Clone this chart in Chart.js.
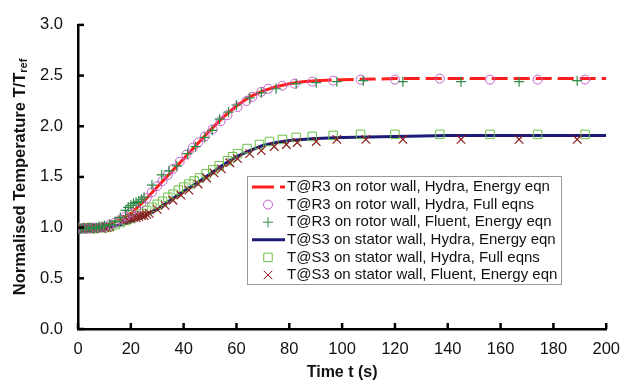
<!DOCTYPE html>
<html>
<head>
<meta charset="utf-8">
<script src="https://cdn.jsdelivr.net/npm/chart.js@4/dist/chart.umd.min.js"></script>
<style>
  html, body { margin: 0; padding: 0; background: #fff; }
  #wrap { width: 631px; height: 385px; }
</style>
</head>
<body>
<div id="wrap"><canvas id="tempChart" width="631" height="385"></canvas></div>
<script>
// Hydra energy eqn curves (lines)
const lineTime = [0, 5, 10, 15, 20, 25, 30, 35, 40, 45, 50, 55, 60, 65, 70, 75, 80, 85, 90, 100, 120, 140, 160, 180, 200];
const rotorLine = [1.00, 1.00, 1.02, 1.07, 1.14, 1.26, 1.40, 1.54, 1.68, 1.82, 1.96, 2.09, 2.20, 2.29, 2.35, 2.39, 2.42, 2.44, 2.45, 2.46, 2.47, 2.47, 2.47, 2.47, 2.47];
const statorLine = [1.00, 1.00, 1.00, 1.02, 1.06, 1.11, 1.18, 1.27, 1.36, 1.44, 1.53, 1.62, 1.70, 1.76, 1.81, 1.84, 1.86, 1.87, 1.88, 1.89, 1.90, 1.91, 1.91, 1.91, 1.91];

// T@R3 rotor, Hydra full eqns (circles)
const rotorFullT = [0, 2, 4, 6, 8, 10, 12, 14, 16, 18, 20, 22, 24, 26, 28, 30, 32, 34, 36, 38.5, 41, 43.5, 45.5, 48, 51, 54, 56.6, 60.4, 63.8, 66, 69.4, 72, 77.4, 82, 88.7, 96.6, 107, 120, 137, 156, 174, 192];
const rotorFullV = [1.00, 0.99, 0.99, 1.00, 1.00, 1.01, 1.03, 1.05, 1.08, 1.11, 1.15, 1.19, 1.24, 1.29, 1.35, 1.41, 1.46, 1.52, 1.58, 1.65, 1.72, 1.79, 1.84, 1.90, 1.97, 2.05, 2.11, 2.19, 2.25, 2.29, 2.34, 2.37, 2.40, 2.42, 2.44, 2.45, 2.46, 2.46, 2.47, 2.46, 2.46, 2.46];

// T@R3 rotor, Fluent energy eqn (plus)
const rotorFluentT = [0, 1, 2, 3, 4, 5, 6, 7, 8, 9, 10, 12, 14, 16, 18, 19, 20, 21, 22, 23, 24, 25, 28, 31.7, 34.5, 37.4, 41.5, 44.5, 48, 50.8, 53.6, 57, 60, 65, 69.4, 75, 82.6, 90.2, 98, 108, 123, 145, 167, 189];
const rotorFluentV = [1.00, 0.99, 1.00, 0.99, 1.00, 1.00, 0.99, 1.00, 1.01, 1.01, 1.02, 1.03, 1.06, 1.10, 1.17, 1.20, 1.22, 1.24, 1.25, 1.26, 1.28, 1.30, 1.42, 1.52, 1.56, 1.61, 1.73, 1.80, 1.89, 1.96, 2.07, 2.14, 2.21, 2.28, 2.33, 2.37, 2.42, 2.43, 2.44, 2.45, 2.44, 2.44, 2.44, 2.45];

// T@S3 stator, Hydra full eqns (squares)
const statorFullT = [0, 2, 4, 6, 8, 10, 12, 14, 16, 18, 20, 22, 24, 26, 28, 30, 32, 34, 36, 38, 40, 42, 44, 46, 48.5, 51, 53.5, 56.6, 58.5, 60.4, 64, 68.7, 72.5, 77.4, 82.6, 88.7, 96.6, 107, 120, 137, 156, 174, 192];
const statorFullV = [0.99, 0.99, 1.00, 0.99, 1.00, 1.00, 1.01, 1.03, 1.05, 1.07, 1.09, 1.12, 1.14, 1.17, 1.20, 1.23, 1.26, 1.30, 1.33, 1.37, 1.40, 1.43, 1.46, 1.49, 1.53, 1.57, 1.61, 1.66, 1.70, 1.73, 1.78, 1.82, 1.85, 1.87, 1.89, 1.90, 1.91, 1.92, 1.92, 1.92, 1.92, 1.92, 1.92];

// T@S3 stator, Fluent energy eqn (x)
const statorFluentT = [0, 1, 2, 3, 4, 5, 6, 7, 8, 9, 10, 11, 12, 17, 18.5, 20, 21, 22, 23, 24, 25, 26, 27, 30, 33, 36, 39, 42, 45.5, 48.7, 51.5, 54.3, 57.5, 60.4, 65, 69.4, 74.3, 78.9, 83, 90.2, 98, 109, 123, 145, 167, 189];
const statorFluentV = [0.99, 1.00, 0.99, 1.00, 0.99, 1.00, 0.99, 1.00, 1.00, 0.99, 1.00, 1.00, 1.01, 1.07, 1.08, 1.09, 1.10, 1.10, 1.11, 1.12, 1.12, 1.13, 1.14, 1.18, 1.22, 1.27, 1.32, 1.37, 1.43, 1.49, 1.54, 1.58, 1.64, 1.68, 1.73, 1.76, 1.80, 1.82, 1.84, 1.85, 1.87, 1.87, 1.87, 1.87, 1.87, 1.87];

const legendLabels = [
  'T@R3 on rotor wall, Hydra, Energy eqn',
  'T@R3 on rotor wall, Hydra, Full eqns',
  'T@R3 on rotor wall, Fluent, Energy eqn',
  'T@S3 on stator wall, Hydra, Energy eqn',
  'T@S3 on stator wall, Hydra, Full eqns',
  'T@S3 on stator wall, Fluent, Energy eqn'
];

const xTicks = [0, 20, 40, 60, 80, 100, 120, 140, 160, 180, 200];
const yTicks = [0, 0.5, 1.0, 1.5, 2.0, 2.5, 3.0];

function pts(xs, ys) {
  return xs.map((x, i) => ({ x: x, y: ys[i] }));
}

const FONT = "'Liberation Sans', Arial, sans-serif";

// inward tick marks, y title with subscript, legend box
const extras = {
  id: 'extras',
  afterDraw(chart) {
    const ctx = chart.ctx;
    const xs = chart.scales.x, ys = chart.scales.y;
    const area = chart.chartArea;
    ctx.save();
    ctx.strokeStyle = '#000';
    ctx.lineWidth = 2.5;
    xTicks.forEach(v => {
      const px = xs.getPixelForValue(v);
      ctx.beginPath();
      ctx.moveTo(px, area.bottom);
      ctx.lineTo(px, area.bottom - 6);
      ctx.stroke();
    });
    yTicks.forEach(v => {
      const py = ys.getPixelForValue(v);
      ctx.beginPath();
      ctx.moveTo(area.left, py);
      ctx.lineTo(area.left + 6, py);
      ctx.stroke();
    });

    // y axis title
    ctx.translate(20, (area.top + area.bottom) / 2);
    ctx.rotate(-Math.PI / 2);
    ctx.fillStyle = '#111';
    ctx.textBaseline = 'middle';
    const main = 'Normalised Temperature T/T';
    ctx.font = 'bold 16.5px ' + FONT;
    const w1 = ctx.measureText(main).width;
    ctx.font = 'bold 11px ' + FONT;
    const w2 = ctx.measureText('ref').width;
    const start = -(w1 + w2) / 2;
    ctx.font = 'bold 16.5px ' + FONT;
    ctx.textAlign = 'left';
    ctx.fillText(main, start, 0);
    ctx.font = 'bold 11px ' + FONT;
    ctx.fillText('ref', start + w1, 4);
    ctx.restore();

    // legend
    ctx.save();
    const bx = 247, by = 176, bw = 314, bh = 108, rowH = 17.6;
    ctx.fillStyle = '#fff';
    ctx.fillRect(bx, by, bw, bh);
    ctx.strokeStyle = '#9a9a9a';
    ctx.lineWidth = 1;
    ctx.strokeRect(bx + 0.5, by + 0.5, bw, bh);
    ctx.font = '15px ' + FONT;
    ctx.textBaseline = 'middle';
    ctx.textAlign = 'left';
    chart.data.datasets.forEach((ds, i) => {
      const cy = by + 11 + i * rowH;
      if (ds.showLine) {
        ctx.strokeStyle = ds.borderColor;
        ctx.lineWidth = 3;
        ctx.setLineDash(ds.legendDash || []);
        ctx.beginPath();
        ctx.moveTo(bx + 5, cy);
        ctx.lineTo(bx + 38, cy);
        ctx.stroke();
        ctx.setLineDash([]);
      } else {
        ctx.strokeStyle = ds.borderColor;
        ctx.fillStyle = 'rgba(0,0,0,0)';
        ctx.lineWidth = 1;
        Chart.helpers.drawPoint(ctx, {
          pointStyle: ds.pointStyle, radius: ds.pointRadius, rotation: 0, borderWidth: 1
        }, bx + 21, cy);
      }
      ctx.fillStyle = '#111';
      ctx.fillText(legendLabels[i], bx + 40, cy);
    });
    ctx.restore();
  }
};

const ctx = document.getElementById('tempChart').getContext('2d');
const tempChart = new Chart(ctx, {
  type: 'scatter',
  data: {
    datasets: [
      {
        label: legendLabels[0],
        data: pts(lineTime, rotorLine),
        showLine: true,
        borderColor: '#ff1f1f',
        borderWidth: 3,
        pointRadius: 0,
        legendDash: [22, 6, 6, 0],
        segment: {
          borderDash: c => (c.p1.parsed.x - c.p0.parsed.x) > 8 ? [16, 6] : undefined
        },
        order: 6
      },
      {
        label: legendLabels[1],
        data: pts(rotorFullT, rotorFullV),
        borderColor: '#c15ec8',
        backgroundColor: 'rgba(0,0,0,0)',
        pointStyle: 'circle',
        pointRadius: 4.5,
        pointBorderWidth: 1,
        order: 2
      },
      {
        label: legendLabels[2],
        data: pts(rotorFluentT, rotorFluentV),
        borderColor: '#2e8b45',
        backgroundColor: 'rgba(0,0,0,0)',
        pointStyle: 'cross',
        pointRadius: 5,
        pointBorderWidth: 1.2,
        order: 1
      },
      {
        label: legendLabels[3],
        data: pts(lineTime, statorLine),
        showLine: true,
        borderColor: '#1c1c78',
        borderWidth: 3,
        pointRadius: 0,
        order: 5
      },
      {
        label: legendLabels[4],
        data: pts(statorFullT, statorFullV),
        borderColor: '#6cbf4a',
        backgroundColor: 'rgba(0,0,0,0)',
        pointStyle: 'rect',
        pointRadius: 6,
        pointBorderWidth: 1,
        order: 4
      },
      {
        label: legendLabels[5],
        data: pts(statorFluentT, statorFluentV),
        borderColor: '#8b1f1f',
        backgroundColor: 'rgba(0,0,0,0)',
        pointStyle: 'crossRot',
        pointRadius: 6,
        pointBorderWidth: 1.2,
        order: 3
      }
    ]
  },
  options: {
    responsive: false,
    animation: false,
    layout: { padding: { top: 18, right: 23, left: 0, bottom: 0 } },
    plugins: {
      legend: { display: false },
      tooltip: { enabled: false }
    },
    scales: {
      x: {
        type: 'linear',
        min: 0,
        max: 200,
        afterBuildTicks: s => { s.ticks = xTicks.map(v => ({ value: v })); },
        afterFit: s => { s.height = 56; },
        grid: { display: false, drawTicks: false },
        border: { display: true, color: '#000', width: 2.5 },
        ticks: {
          padding: 11,
          color: '#111',
          font: { family: FONT, size: 16.5 },
          maxRotation: 0
        },
        title: {
          display: true,
          text: 'Time t (s)',
          color: '#111',
          font: { family: FONT, size: 16, weight: 'bold' },
          padding: { top: 0, bottom: 3 }
        }
      },
      y: {
        min: 0,
        max: 3,
        afterBuildTicks: s => { s.ticks = yTicks.map(v => ({ value: v })); },
        afterFit: s => { s.width = 78; },
        grid: { display: false, drawTicks: false },
        border: { display: true, color: '#000', width: 2.5 },
        ticks: {
          padding: 15,
          color: '#111',
          font: { family: FONT, size: 16.5 },
          callback: v => v.toFixed(1)
        }
      }
    }
  },
  plugins: [extras]
});
</script>
</body>
</html>
